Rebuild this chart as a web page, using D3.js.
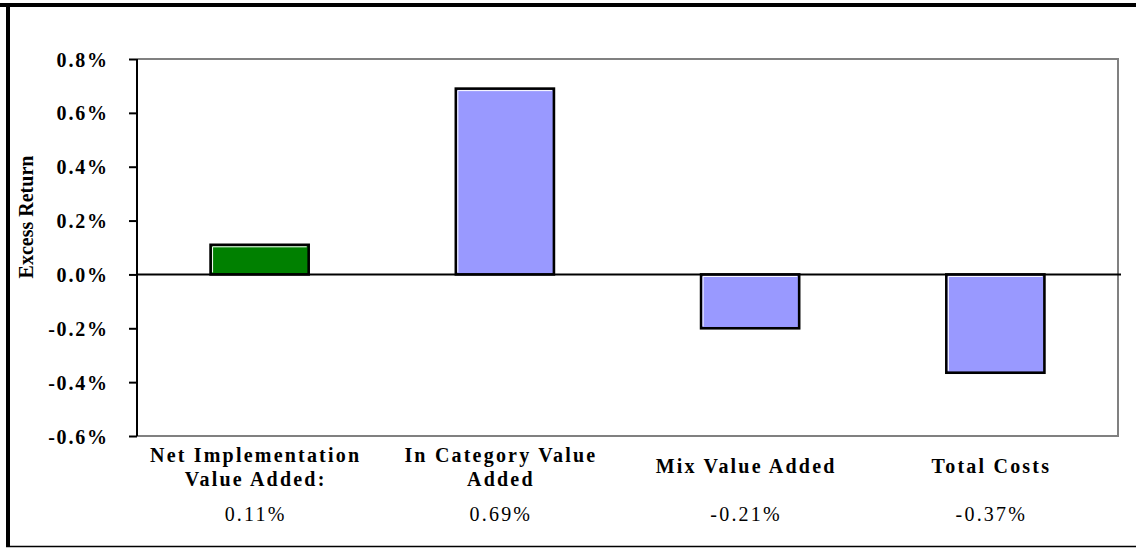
<!DOCTYPE html>
<html lang="en">
<head>
  <meta charset="UTF-8">
  <title>Excess Return</title>
  <script src="https://d3js.org/d3.v7.min.js"></script>
  <style>
    body { margin: 0; background: #fff; }
    .tick-label { font-family: "Liberation Serif", serif; font-weight: bold; font-size: 20px; letter-spacing: 1.8px; fill: #000; }
    .cat-label { font-family: "Liberation Serif", serif; font-weight: bold; font-size: 20px; letter-spacing: 2.2px; fill: #000; }
    .val-label { font-family: "Liberation Serif", serif; font-size: 20px; letter-spacing: 2.2px; fill: #000; }
    .axislabel { font-family: "Liberation Serif", serif; font-weight: bold; font-size: 20px; fill: #000; }
  </style>
</head>
<body>
<div id="chart"></div>
<script>
  // data
  const categories = ["Net Implementation Value Added:", "In Category Value Added", "Mix Value Added", "Total Costs"];
  const categoryLines = [["Net Implementation", "Value Added:"], ["In Category Value", "Added"], ["Mix Value Added"], ["Total Costs"]];
  const values = [0.11, 0.69, -0.20, -0.365];
  const valueLabels = ["0.11%", "0.69%", "-0.21%", "-0.37%"];
  const barColors = ["#008000", "#9999FF", "#9999FF", "#9999FF"];
  const yTicks = [0.8, 0.6, 0.4, 0.2, 0.0, -0.2, -0.4, -0.6];

  const width = 1136, height = 548;
  const plot = {left: 137, right: 1118, top: 59, bottom: 436};

  const svg = d3.select("#chart").append("svg")
      .attr("width", width)
      .attr("height", height);

  // outer frame
  svg.append("line").attr("x1", 0).attr("x2", width).attr("y1", 5).attr("y2", 5)
      .attr("stroke", "#000").attr("stroke-width", 4);
  svg.append("line").attr("x1", 8).attr("x2", 8).attr("y1", 3).attr("y2", 547)
      .attr("stroke", "#000").attr("stroke-width", 4);
  svg.append("line").attr("x1", 6).attr("x2", width).attr("y1", 546.5).attr("y2", 546.5)
      .attr("stroke", "#000").attr("stroke-width", 1.5);

  const yScale = d3.scaleLinear()
      .domain([-0.6, 0.8])
      .range([plot.bottom, plot.top]);

  const xScale = d3.scaleBand()
      .domain(categories)
      .range([plot.left, plot.right])
      .paddingInner(0.6)
      .paddingOuter(0.3);

  // plot border (gray top, right, bottom)
  svg.append("path")
      .attr("d", `M${plot.left},${plot.top}H${plot.right}V${plot.bottom}H${plot.left}`)
      .attr("fill", "none")
      .attr("stroke", "#808080")
      .attr("stroke-width", 2);

  // y axis
  const yAxis = svg.append("g")
      .attr("transform", `translate(${plot.left},0)`)
      .call(d3.axisLeft(yScale)
          .tickValues(yTicks)
          .tickSize(8)
          .tickPadding(22)
          .tickFormat(d => d.toFixed(1) + "%"))
      .call(g => g.select(".domain").attr("stroke-width", 2).attr("d", `M0,${plot.top}V${plot.bottom}`))
      .call(g => g.selectAll(".tick line").attr("stroke-width", 2))
      .call(g => g.selectAll(".tick text")
          .attr("class", "tick-label")
          .attr("font-family", null)
          .attr("font-size", null)
          .attr("dy", "0.35em")
          .attr("dx", "1.8px"));

  svg.append("text")
      .attr("class", "axislabel")
      .attr("transform", `translate(33,217) rotate(-90)`)
      .attr("text-anchor", "middle")
      .text("Excess Return");

  // bars
  const barG = svg.append("g");
  barG.selectAll("rect.bar")
      .data(values)
      .join("rect")
      .attr("class", "bar")
      .attr("x", (d, i) => xScale(categories[i]))
      .attr("y", d => yScale(Math.max(0, d)))
      .attr("width", xScale.bandwidth())
      .attr("height", d => Math.abs(yScale(d) - yScale(0)))
      .attr("fill", (d, i) => barColors[i])
      .attr("stroke", "#000")
      .attr("stroke-width", 2.6);

  // white highlight along top and left inner edges
  barG.selectAll("path.hl")
      .data(values)
      .join("path")
      .attr("class", "hl")
      .attr("fill", "none")
      .attr("stroke", "#fff")
      .attr("stroke-width", 1)
      .attr("d", (d, i) => {
        const x0 = xScale(categories[i]) + 2;
        const y0 = yScale(Math.max(0, d)) + 2;
        const h = Math.abs(yScale(d) - yScale(0)) - 4;
        return `M${x0},${y0 + h}V${y0}H${x0 + xScale.bandwidth() - 4}`;
      });

  // zero line
  svg.append("line")
      .attr("x1", plot.left)
      .attr("x2", plot.right + 3)
      .attr("y1", yScale(0))
      .attr("y2", yScale(0))
      .attr("stroke", "#000")
      .attr("stroke-width", 2);

  // category labels
  const catG = svg.append("g");
  categoryLines.forEach((lines, i) => {
    const cx = xScale(categories[i]) + xScale.bandwidth() / 2 - 4;
    const startY = lines.length === 1 ? 473 : 462;
    lines.forEach((line, j) => {
      catG.append("text")
          .attr("class", "cat-label")
          .attr("x", cx)
          .attr("y", startY + j * 24)
          .attr("text-anchor", "middle")
          .text(line);
    });
    catG.append("text")
        .attr("class", "val-label")
        .attr("x", cx)
        .attr("y", 521)
        .attr("text-anchor", "middle")
        .text(valueLabels[i]);
  });
</script>
</body>
</html>
